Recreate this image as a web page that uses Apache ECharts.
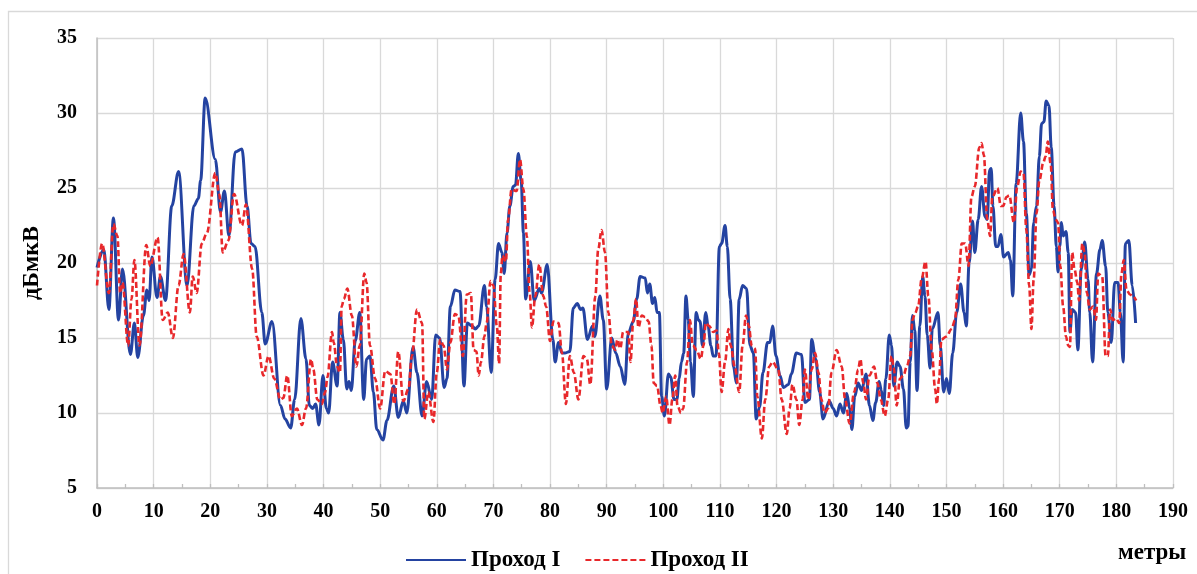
<!DOCTYPE html>
<html>
<head>
<meta charset="utf-8">
<script src="https://cdn.jsdelivr.net/npm/echarts@6/dist/echarts.min.js"></script>
<style>
html,body{margin:0;padding:0;background:#fff;}
#chart{width:1197px;height:574px;}
</style>
</head>
<body>
<div id="chart"></div>
<script>
// Distance (m) and level (dBµV)
const seriesNames = ['Проход I', 'Проход II'];
const yTicks = [5, 10, 15, 20, 25, 30, 35];
const xTicks = [0, 10, 20, 30, 40, 50, 60, 70, 80, 90, 100, 110, 120, 130, 140, 150, 160, 170, 180, 190];

const pass1X = [0,1.2,2.1,2.9,3.8,4.5,5.9,6.6,7.2,8.2,8.8,9.2,9.7,10.6,11.2,12.1,13.2,14.4,15.9,17.1,17.9,18.3,19.1,20.9,21.8,22.5,23.3,24.4,25.6,26.5,27.2,27.9,29.1,29.7,30.9,32.4,33.2,34.2,34.9,36.0,36.9,37.5,38.1,38.6,39.2,39.9,40.5,40.9,41.6,42.4,42.9,43.5,44.1,44.5,44.9,45.6,46.4,47.1,47.6,48.2,48.8,49.4,50.5,51.2,52.4,53.2,54.1,54.7,55.8,56.5,57.4,58.2,59.1,59.8,60.5,61.3,61.8,62.4,63.2,64.1,64.8,65.4,66.2,66.8,67.4,68.4,68.8,69.6,70.3,70.9,71.5,71.9,72.4,72.9,73.5,73.9,74.4,74.9,75.3,75.7,76.5,77.2,78.1,78.5,79.5,80.5,80.9,81.5,82.1,82.6,83.5,84.1,84.8,85.4,85.8,86.6,87.5,87.9,88.8,89.4,90.0,90.9,91.6,92.4,93.2,93.8,94.7,95.3,95.9,96.8,97.2,97.6,98.1,98.5,98.9,99.3,99.7,100.2,100.9,101.3,101.9,102.4,102.8,103.2,103.6,104.0,104.4,104.8,105.3,105.8,106.2,106.5,106.9,107.5,107.9,108.4,108.8,109.3,109.9,110.3,110.9,111.3,111.8,112.4,112.9,113.4,114.0,114.7,115.3,115.9,116.4,117.0,117.6,118.4,118.8,119.3,119.9,120.6,121.2,122.1,122.6,123.5,124.4,125.0,125.8,126.2,126.9,127.6,128.2,129.3,130.0,130.6,131.2,131.8,132.4,132.9,133.3,133.8,134.4,135.0,135.8,136.4,137.0,137.5,138.1,138.5,138.9,139.3,139.9,140.3,140.7,141.3,141.8,142.4,142.9,143.2,143.6,144.0,144.4,144.8,145.3,145.8,146.2,146.6,147.1,147.5,148.5,148.9,149.5,150.0,150.5,151.1,151.8,152.5,153.1,153.5,154.0,154.6,155.0,155.6,156.2,156.8,157.2,157.6,157.9,158.2,158.7,159.1,159.6,160.1,160.9,161.3,161.7,162.3,163.1,163.6,164.1,164.6,165.0,165.4,165.9,166.4,166.8,167.2,167.6,168.1,168.5,169.0,169.4,169.7,170.0,170.3,170.6,171.1,171.5,171.8,172.2,172.8,173.2,173.8,174.4,175.0,175.3,175.8,176.5,177.1,177.5,178.1,178.5,179.1,179.7,180.3,180.7,181.2,181.6,182.2,182.8,183.4];
const pass1Y = [19.7,20.9,16.9,23.0,16.2,19.6,13.9,16.0,13.7,16.5,18.2,17.5,20.4,17.7,19.1,17.5,23.8,26.1,18.5,23.8,24.3,25.5,31.0,26.9,23.4,24.8,21.8,27.4,27.6,23.8,21.3,21.1,16.7,14.6,16.1,10.5,9.6,9.0,10.9,16.3,13.6,10.5,10.3,10.6,9.2,12.5,10.3,10.0,13.4,11.8,16.7,14.9,11.6,12.1,11.5,14.8,16.7,10.9,13.6,13.8,11.4,8.9,8.2,9.5,11.8,9.7,10.8,10.0,14.4,12.7,9.8,12.1,10.9,15.2,15.0,11.7,12.3,17.1,18.2,18.1,11.8,16.0,15.8,15.6,15.8,18.5,17.1,12.7,18.9,21.3,20.7,19.3,22.0,23.8,25.1,25.2,27.3,25.5,22.0,17.6,20.1,17.5,18.3,18.0,19.9,14.9,13.4,14.7,14.0,14.0,14.1,17.0,17.3,16.9,17.0,14.9,15.8,15.1,17.8,16.2,11.6,15.0,14.0,13.1,11.9,15.3,16.1,17.6,19.1,19.0,18.0,18.6,17.3,17.7,16.7,16.7,11.1,9.8,12.6,12.4,10.9,10.9,12.3,13.4,14.0,17.8,16.2,13.4,11.1,16.7,16.2,16.1,14.5,16.7,15.8,14.5,13.8,13.8,21.1,21.3,22.5,21.1,17.6,13.1,12.0,17.6,18.5,18.3,14.5,14.0,9.6,10.4,12.7,14.7,14.7,15.8,13.8,12.5,11.7,11.9,12.6,14.0,13.9,10.7,10.9,14.9,13.6,11.4,9.6,10.8,10.3,9.8,10.6,10.0,11.3,10.3,8.9,11.1,12.0,11.5,12.6,10.5,9.5,10.7,12.1,11.5,10.5,12.3,15.2,14.5,11.8,13.4,13.1,11.6,9.0,9.1,13.4,16.5,15.5,11.5,15.8,19.1,17.8,15.2,13.0,15.6,16.7,14.5,11.4,12.3,11.3,14.0,16.7,18.6,16.7,15.8,20.0,22.8,20.7,22.9,25.1,23.1,22.9,26.2,26.3,23.8,21.1,21.1,21.9,20.4,20.7,20.2,17.8,25.3,30.0,28.1,23.3,19.2,19.6,22.7,23.8,27.1,29.3,29.4,30.8,30.5,27.7,23.8,21.1,19.4,21.1,22.7,21.8,22.1,20.7,15.4,16.9,16.7,14.2,19.6,21.4,18.9,16.7,13.4,19.3,20.9,21.5,19.8,16.7,14.7,18.7,18.7,16.7,13.4,21.3,21.5,18.5,16.0];

const pass2X = [0,0.9,2.1,2.9,3.6,4.1,4.5,5.5,6.1,6.6,7.5,8.7,9.4,10.7,11.6,12.5,13.4,14.4,15.3,16.4,16.9,17.6,18.5,19.4,20.9,21.6,22.2,23.2,24.2,25.6,26.3,27.4,28.2,29.4,30.3,31.3,32.4,32.9,33.6,34.4,35.3,36.2,36.9,37.8,38.2,38.9,39.7,40.3,40.7,41.5,41.8,42.4,42.9,43.2,43.6,44.2,45.0,45.8,46.4,47.2,47.6,48.2,49.1,50.0,50.9,51.8,52.5,53.2,54.1,55.0,55.6,56.5,57.4,57.8,58.5,59.4,60.0,60.6,61.2,61.8,62.4,63.2,63.8,64.6,65.3,66.0,66.5,67.0,67.4,67.8,68.4,68.8,69.5,70.0,70.6,71.0,71.3,71.6,72.2,72.6,73.2,74.1,74.7,75.3,75.9,76.4,76.8,77.4,78.1,78.8,79.3,80.0,80.6,81.5,82.1,82.8,83.5,84.2,85.0,85.9,86.5,87.1,88.0,88.5,89.1,89.7,90.3,90.9,91.5,91.9,92.4,92.9,93.8,94.2,94.7,95.2,95.6,96.2,96.8,97.4,97.9,98.3,98.9,99.5,99.9,100.5,101.1,101.6,102.1,102.5,103.1,103.5,104.2,104.7,105.2,105.9,106.6,107.1,107.5,108.1,108.8,109.4,109.8,110.3,110.9,111.5,111.9,112.6,113.4,114.0,114.6,115.1,115.6,116.2,116.6,117.4,118.0,118.7,119.3,120.3,120.9,121.8,122.3,122.8,123.5,124.0,124.6,125.0,125.6,126.2,126.8,127.4,127.9,128.5,129.1,129.7,130.6,131.5,132.1,132.9,133.7,134.4,134.8,135.3,135.8,136.4,137.2,137.8,138.4,139.1,139.7,140.3,140.7,141.2,141.8,142.4,143.0,143.6,144.0,144.4,145.0,145.6,146.3,146.8,147.4,148.0,148.3,148.7,149.1,150.0,150.9,151.5,152.1,152.7,153.3,153.9,154.4,155.0,155.8,156.2,156.6,157.2,157.7,158.1,159.0,159.6,160.0,160.6,161.1,161.9,162.5,163.1,163.6,164.1,164.6,165.0,165.4,165.9,166.4,167.1,167.5,167.9,168.4,168.8,169.3,169.7,170.1,170.6,171.1,171.5,171.8,172.2,172.6,173.1,173.4,174.0,174.4,174.8,175.3,175.9,176.4,176.8,177.5,178.1,178.5,178.9,179.4,180.0,180.5,180.9,181.3,181.8,182.4,182.9,183.5];
const pass2Y = [18.5,21.3,18.0,22.6,21.8,18.0,18.7,14.5,17.6,20.2,14.5,21.2,19.8,21.7,16.2,16.7,15.0,18.5,20.6,16.7,19.1,18.0,21.3,22.0,26.0,24.6,20.7,21.5,24.6,22.5,23.9,19.6,15.1,12.5,13.8,12.3,10.9,11.0,12.5,9.8,10.3,9.2,10.3,13.6,12.9,10.9,10.6,11.4,12.4,15.4,14.7,13.1,12.7,17.1,17.6,18.3,16.5,13.1,14.5,19.3,18.7,14.5,12.3,10.3,12.8,12.6,10.6,14.1,10.8,11.6,13.8,16.9,16.0,9.6,11.4,9.4,12.7,14.9,14.5,12.9,14.7,16.6,16.5,13.8,17.9,18.0,14.2,14.1,12.5,13.4,15.1,16.0,18.8,18.5,15.8,13.3,19.3,20.5,20.1,22.9,24.9,24.8,26.9,24.9,21.8,18.0,15.7,17.8,19.9,17.8,17.1,14.8,16.1,16.0,14.0,10.6,13.8,12.7,10.9,13.8,13.6,11.9,17.8,20.9,22.2,20.7,16.7,14.5,14.2,14.9,14.3,15.4,15.4,13.4,16.2,17.6,15.7,16.5,16.4,16.1,14.5,12.0,11.8,10.5,10.0,11.1,9.2,10.9,12.5,10.5,10.0,10.3,13.4,16.2,14.5,14.2,13.6,14.5,16.0,15.8,15.4,15.5,14.0,11.4,13.4,15.6,14.5,13.1,11.4,14.5,16.5,15.8,14.5,14.3,11.1,8.3,10.9,13.1,13.4,12.9,10.9,8.6,10.3,11.9,10.9,9.2,10.9,12.9,10.9,12.9,14.0,12.7,10.9,10.0,10.3,12.7,14.2,13.1,10.9,9.3,11.4,12.9,13.6,12.0,10.9,12.5,13.1,12.0,10.9,9.8,10.9,13.8,13.0,10.5,12.3,12.5,13.1,13.8,16.2,16.6,17.1,18.9,20.1,17.8,14.2,11.6,10.6,12.3,14.9,15.1,15.6,16.2,18.9,21.3,21.3,19.8,24.4,25.1,27.7,28.0,27.2,22.9,21.8,24.4,25.0,23.8,23.8,24.4,24.5,22.7,25.1,26.1,26.0,22.2,18.5,15.6,18.9,23.3,25.5,26.7,27.1,28.1,26.6,23.5,22.9,22.7,19.8,17.1,15.1,14.5,14.4,20.7,19.6,18.7,17.5,21.3,20.7,18.0,16.9,17.1,16.2,19.3,19.1,13.8,13.8,16.9,16.2,16.3,16.0,19.3,20.2,18.2,17.9,17.8,17.5];

const pass1 = pass1X.map((x, i) => [x, pass1Y[i]]);
const pass2 = pass2X.map((x, i) => [x, pass2Y[i]]);

const FONT = '"Liberation Serif", "Times New Roman", serif';
const chart = echarts.init(document.getElementById('chart'), null, {renderer: 'canvas'});
chart.setOption({
  animation: false,
  backgroundColor: '#ffffff',
  grid: {left: 97, top: 38, right: 24, bottom: 86, containLabel: false},
  legend: {
    data: seriesNames,
    left: 400,
    top: 542,
    itemWidth: 60,
    itemHeight: 14,
    itemGap: 24,
    itemStyle: {opacity: 0},
    textStyle: {fontFamily: FONT, fontWeight: 'bold', fontSize: 23, color: '#000', lineHeight: 26}
  },
  xAxis: {
    type: 'value',
    min: xTicks[0],
    max: xTicks[xTicks.length - 1],
    interval: 10,
    axisLine: {show: true, lineStyle: {color: '#bfbfbf', width: 1.5}},
    axisTick: {show: true, inside: true, length: 4, lineStyle: {color: '#bfbfbf', width: 1.3}},
    minorTick: {show: true, splitNumber: 2, length: 4, lineStyle: {color: '#bfbfbf', width: 1.3}},
    splitLine: {show: true, lineStyle: {color: '#d9d9d9', width: 1.3}},
    axisLabel: {margin: 14, fontFamily: FONT, fontWeight: 'bold', fontSize: 20, color: '#000'}
  },
  yAxis: {
    type: 'value',
    min: yTicks[0],
    max: yTicks[yTicks.length - 1],
    interval: 5,
    name: 'дБмкВ',
    nameLocation: 'middle',
    nameGap: 53,
    nameRotate: 90,
    nameTextStyle: {fontFamily: FONT, fontWeight: 'bold', fontSize: 24, color: '#000'},
    axisLine: {show: true, lineStyle: {color: '#bfbfbf', width: 1.5}},
    axisTick: {show: false},
    splitLine: {show: true, lineStyle: {color: '#d9d9d9', width: 1.3}},
    axisLabel: {margin: 20, fontFamily: FONT, fontWeight: 'bold', fontSize: 20, color: '#000'}
  },
  graphic: [
    {type: 'rect', silent: true, z: -10,
     shape: {x: 8.5, y: 11.5, width: 1300, height: 700},
     style: {fill: 'none', stroke: '#d9d9d9', lineWidth: 1.3}},
    {type: 'text', left: 1118, top: 542,
     style: {text: 'метры', fontFamily: FONT, fontWeight: 'bold', fontSize: 23, fill: '#000'}}
  ],
  series: [
    {
      name: seriesNames[0], type: 'line', data: pass1, symbol: 'none',
      smooth: 0.35, smoothMonotone: 'x', z: 2,
      lineStyle: {color: '#2443a1', width: 3},
      itemStyle: {color: '#2443a1'}
    },
    {
      name: seriesNames[1], type: 'line', data: pass2, symbol: 'none',
      smooth: 0.35, smoothMonotone: 'x', z: 3,
      lineStyle: {color: '#e8282b', width: 2.6, type: [6, 3]},
      itemStyle: {color: '#e8282b'}
    }
  ]
});
</script>
</body>
</html>
